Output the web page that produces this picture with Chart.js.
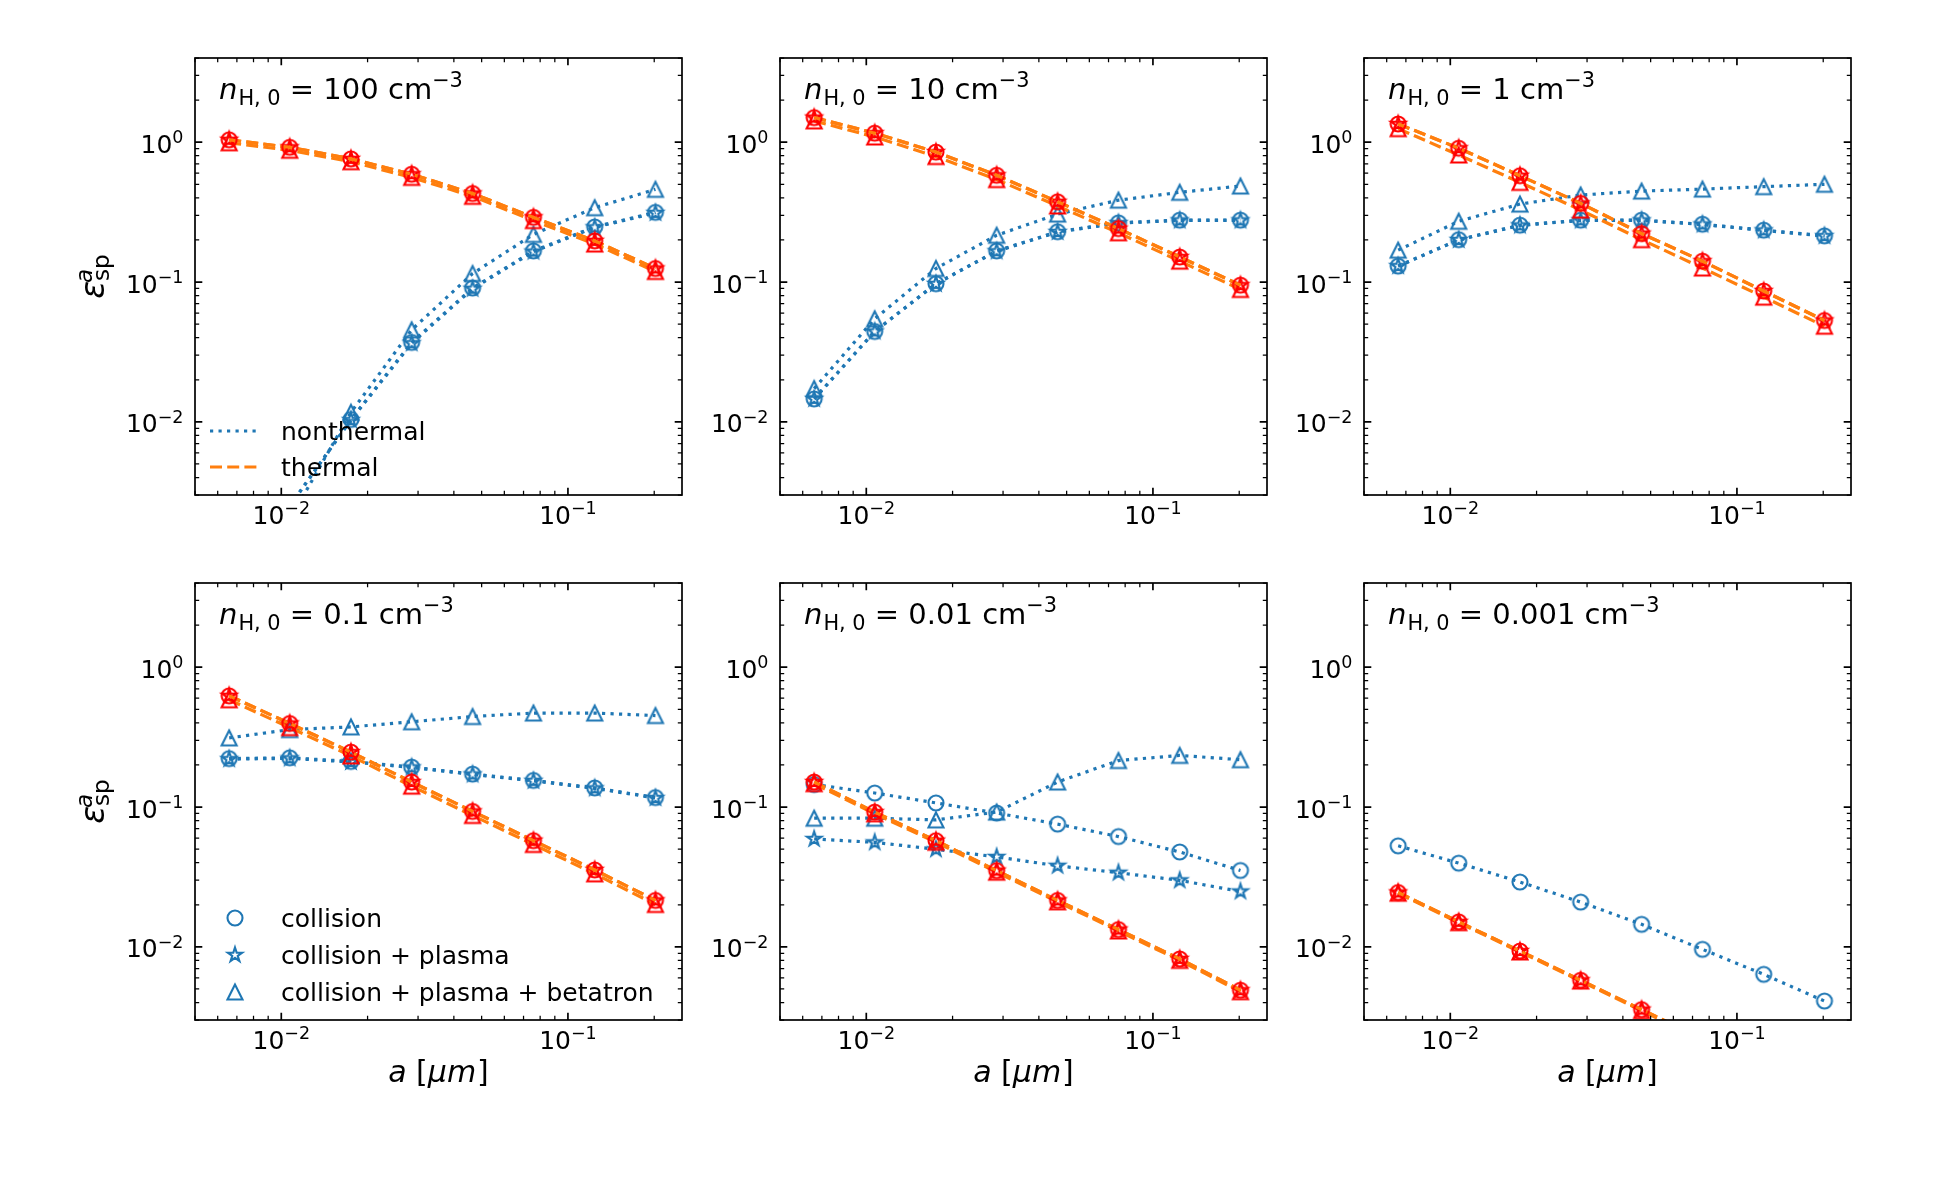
<!DOCTYPE html>
<html>
<head>
<meta charset="utf-8">
<script src="https://cdn.jsdelivr.net/npm/chart.js@4.4.1/dist/chart.umd.min.js"></script>
<style>
  html, body { margin: 0; padding: 0; background: #ffffff; width: 1950px; height: 1200px; overflow: hidden; }
  canvas { position: absolute; }
</style>
</head>
<body>
<script>
// ---------------- data ----------------
const grainSize = [0.00658, 0.0107, 0.0175, 0.0285, 0.0465, 0.0758, 0.124, 0.202]; // a [um]
const densityLabels = ['100', '10', '1', '0.1', '0.01', '0.001'];
const processLabels = ['collision', 'collision + plasma', 'collision + plasma + betatron'];
const componentLabels = ['nonthermal', 'thermal'];
const xMajorTicks = [0.01, 0.1];
const xTickLabels = [['10', '\u22122'], ['10', '\u22121']];
const xMinorTicks = [0.005, 0.006, 0.007, 0.008, 0.009, 0.02, 0.03, 0.04, 0.05, 0.06, 0.07, 0.08, 0.09, 0.2];
const yMajorTicks = [0.01, 0.1, 1];
const yTickLabels = [['10', '\u22122'], ['10', '\u22121'], ['10', '0']];
const yMinorTicks = [0.003, 0.004, 0.005, 0.006, 0.007, 0.008, 0.009, 0.02, 0.03, 0.04, 0.05, 0.06, 0.07, 0.08, 0.09,
                     0.2, 0.3, 0.4, 0.5, 0.6, 0.7, 0.8, 0.9, 2, 3, 4];

// n_H,0 = 100 cm^-3
const coll_nt_100 = [null, 0.0025, 0.0104, 0.037, 0.0906, 0.167, 0.248, 0.315];
const plas_nt_100 = [null, 0.0025, 0.0103, 0.0365, 0.0895, 0.165, 0.246, 0.312];
const beta_nt_100 = [null, 0.0020, 0.0117, 0.0455, 0.115, 0.219, 0.34, 0.46];
const coll_th_100 = [1.04, 0.92, 0.76, 0.59, 0.43, 0.29, 0.197, 0.125];
const plas_th_100 = [1.04, 0.92, 0.76, 0.59, 0.43, 0.29, 0.197, 0.125];
const beta_th_100 = [0.99, 0.875, 0.725, 0.56, 0.41, 0.275, 0.187, 0.119];
// n_H,0 = 10
const coll_nt_10 = [0.0146, 0.0443, 0.0973, 0.167, 0.229, 0.265, 0.277, 0.277];
const plas_nt_10 = [0.0146, 0.0443, 0.0970, 0.166, 0.228, 0.264, 0.276, 0.276];
const beta_nt_10 = [0.0173, 0.0546, 0.125, 0.216, 0.306, 0.385, 0.438, 0.486];
const coll_th_10 = [1.50, 1.16, 0.85, 0.58, 0.375, 0.241, 0.151, 0.0950];
const plas_th_10 = [1.50, 1.16, 0.85, 0.58, 0.375, 0.241, 0.151, 0.0950];
const beta_th_10 = [1.42, 1.09, 0.79, 0.54, 0.35, 0.225, 0.141, 0.0885];
// n_H,0 = 1
const coll_nt_1 = [0.130, 0.201, 0.255, 0.277, 0.277, 0.259, 0.235, 0.214];
const plas_nt_1 = [0.130, 0.200, 0.254, 0.276, 0.276, 0.258, 0.234, 0.213];
const beta_nt_1 = [0.169, 0.272, 0.361, 0.419, 0.447, 0.462, 0.481, 0.50];
const coll_th_1 = [1.35, 0.906, 0.576, 0.365, 0.222, 0.141, 0.0862, 0.0531];
const plas_th_1 = [1.35, 0.906, 0.576, 0.365, 0.222, 0.141, 0.0862, 0.0531];
const beta_th_1 = [1.25, 0.81, 0.516, 0.327, 0.201, 0.126, 0.078, 0.0483];
// n_H,0 = 0.1
const coll_nt_01 = [0.222, 0.225, 0.212, 0.193, 0.172, 0.155, 0.137, 0.117];
const plas_nt_01 = [0.220, 0.223, 0.210, 0.192, 0.171, 0.154, 0.136, 0.116];
const beta_nt_01 = [0.312, 0.358, 0.374, 0.407, 0.444, 0.470, 0.470, 0.451];
const coll_th_01 = [0.624, 0.396, 0.247, 0.151, 0.0931, 0.0575, 0.0355, 0.0215];
const plas_th_01 = [0.624, 0.396, 0.247, 0.151, 0.0931, 0.0575, 0.0355, 0.0215];
const beta_th_01 = [0.585, 0.37, 0.232, 0.141, 0.087, 0.054, 0.0333, 0.0201];
// n_H,0 = 0.01
const coll_nt_001 = [0.145, 0.126, 0.107, 0.0906, 0.0755, 0.0615, 0.0477, 0.0352];
const plas_nt_001 = [0.0591, 0.0559, 0.0499, 0.044, 0.038, 0.0339, 0.0299, 0.0249];
const beta_nt_001 = [0.0832, 0.0832, 0.0809, 0.092, 0.151, 0.215, 0.234, 0.218];
const coll_th_001 = [0.151, 0.092, 0.0575, 0.0351, 0.0215, 0.0133, 0.0082, 0.0049];
const plas_th_001 = [0.151, 0.092, 0.0575, 0.0351, 0.0215, 0.0133, 0.0082, 0.0049];
const beta_th_001 = [0.147, 0.0895, 0.056, 0.0342, 0.021, 0.013, 0.008, 0.00478];
// n_H,0 = 0.001
const coll_nt_0001 = [0.0528, 0.0397, 0.0291, 0.0209, 0.0145, 0.0096, 0.00636, 0.0041];
const plas_nt_0001 = [];
const beta_nt_0001 = [];
const coll_th_0001 = [0.0245, 0.0151, 0.00934, 0.00577, 0.00356, 0.0022, null, null];
const plas_th_0001 = [0.0245, 0.0151, 0.00934, 0.00577, 0.00356, 0.0022, null, null];
const beta_th_0001 = [0.0242, 0.0149, 0.0092, 0.0057, 0.0035, 0.00216, null, null];

const panelTable = [
  { nt: [coll_nt_100, plas_nt_100, beta_nt_100], th: [coll_th_100, plas_th_100, beta_th_100] },
  { nt: [coll_nt_10, plas_nt_10, beta_nt_10], th: [coll_th_10, plas_th_10, beta_th_10] },
  { nt: [coll_nt_1, plas_nt_1, beta_nt_1], th: [coll_th_1, plas_th_1, beta_th_1] },
  { nt: [coll_nt_01, plas_nt_01, beta_nt_01], th: [coll_th_01, plas_th_01, beta_th_01] },
  { nt: [coll_nt_001, plas_nt_001, beta_nt_001], th: [coll_th_001, plas_th_001, beta_th_001] },
  { nt: [coll_nt_0001, plas_nt_0001, beta_nt_0001], th: [coll_th_0001, plas_th_0001, beta_th_0001] }
];

// ---------------- styles ----------------
const C0 = '#1f77b4', C1 = '#ff7f0e', RED = '#ff0000';
const FONT = '"DejaVu Sans"';
const MS = 7.5, MEW = 2.1, LW = 3.2;
const DOTTED = [3.2, 5.3], DASHED = [12, 5.2];
const shapes = ['circle', 'star', 'triangle'];

function makeMarker(shape, color) {
  const s = 26, c = s / 2;
  const cv = document.createElement('canvas');
  cv.width = s; cv.height = s;
  const g = cv.getContext('2d');
  g.strokeStyle = color; g.lineWidth = MEW; g.lineJoin = 'miter';
  g.beginPath();
  if (shape === 'circle') {
    g.arc(c, c, MS, 0, 2 * Math.PI);
  } else if (shape === 'triangle') {
    g.moveTo(c, c - MS); g.lineTo(c - MS, c + MS); g.lineTo(c + MS, c + MS); g.closePath();
  } else {
    for (let k = 0; k < 10; k++) {
      const r = (k % 2 === 0) ? MS : MS * 0.381966;
      const ang = -Math.PI / 2 + k * Math.PI / 5;
      const px = c + r * Math.cos(ang), py = c + r * Math.sin(ang);
      if (k === 0) g.moveTo(px, py); else g.lineTo(px, py);
    }
    g.closePath();
  }
  g.stroke();
  return cv;
}
const markers = {
  blue: shapes.map(s => makeMarker(s, C0)),
  red: shapes.map(s => makeMarker(s, RED))
};

// ---------------- layout ----------------
const colLeft = [195, 780, 1364], rowTop = [58, 583];
const PW = 487, PH = 437, PL = 130, PT = 20, PR = 20, PB = 110;

function textW(ctx, t, font) { ctx.font = font; return ctx.measureText(t).width; }

function powLabel(ctx, pair, x, yBase, size, align) {
  const fb = size + 'px ' + FONT, fe = (size * 0.7) + 'px ' + FONT;
  const wb = textW(ctx, pair[0], fb), we = textW(ctx, pair[1], fe);
  const w = wb + we;
  const x0 = align === 'center' ? x - w / 2 : (align === 'right' ? x - w : x);
  ctx.textAlign = 'left'; ctx.textBaseline = 'alphabetic';
  ctx.font = fb; ctx.fillText(pair[0], x0, yBase);
  ctx.font = fe; ctx.fillText(pair[1], x0 + wb, yBase - size * 0.37);
}

function richText(ctx, parts, x, y, align) {
  const fontOf = p => (p.italic ? 'italic ' : '') + p.size + 'px ' + FONT;
  let total = 0;
  parts.forEach(p => { total += textW(ctx, p.t, fontOf(p)) + (p.dx || 0); });
  let cx = align === 'center' ? x - total / 2 : x;
  ctx.textAlign = 'left'; ctx.textBaseline = 'alphabetic';
  parts.forEach(p => {
    ctx.font = fontOf(p);
    cx += (p.dx || 0);
    ctx.fillText(p.t, cx, y + (p.dy || 0));
    cx += ctx.measureText(p.t).width;
  });
}

const decorPlugin = {
  id: 'decor',
  afterDatasetsDraw(chart) {
    const o = chart.options.plugins.decor;
    const { ctx, chartArea: a } = chart;
    const xs = chart.scales.x, ys = chart.scales.y;
    ctx.save();
    ctx.fillStyle = '#000'; ctx.strokeStyle = '#000';
    ctx.setLineDash([]); ctx.lineCap = 'butt';
    // frame
    ctx.lineWidth = 1.7;
    ctx.strokeRect(a.left, a.top, a.right - a.left, a.bottom - a.top);
    // ticks (inward, all four sides)
    const xt = (vals, len, lw) => {
      ctx.lineWidth = lw; ctx.beginPath();
      vals.forEach(v => {
        const p = xs.getPixelForValue(v);
        ctx.moveTo(p, a.bottom); ctx.lineTo(p, a.bottom - len);
        ctx.moveTo(p, a.top); ctx.lineTo(p, a.top + len);
      });
      ctx.stroke();
    };
    const yt = (vals, len, lw) => {
      ctx.lineWidth = lw; ctx.beginPath();
      vals.forEach(v => {
        const p = ys.getPixelForValue(v);
        ctx.moveTo(a.left, p); ctx.lineTo(a.left + len, p);
        ctx.moveTo(a.right, p); ctx.lineTo(a.right - len, p);
      });
      ctx.stroke();
    };
    xt(xMinorTicks, 4.2, 1.25); xt(xMajorTicks, 7.3, 1.7);
    yt(yMinorTicks, 4.2, 1.25); yt(yMajorTicks, 7.3, 1.7);
    // tick labels
    xMajorTicks.forEach((v, i) => powLabel(ctx, xTickLabels[i], xs.getPixelForValue(v), a.bottom + 28.5, 25, 'center'));
    yMajorTicks.forEach((v, i) => powLabel(ctx, yTickLabels[i], a.left - 11.5, ys.getPixelForValue(v) + 10.5, 25, 'right'));
    // panel title
    const F = 29;
    richText(ctx, [
      { t: 'n', size: F, italic: true },
      { t: 'H, 0', size: F * 0.72, dy: F * 0.22, dx: 1 },
      { t: ' = ' + o.dens + ' cm', size: F },
      { t: '\u22123', size: F * 0.72, dy: -F * 0.42 }
    ], a.left + 24, a.top + 41, 'left');
    // y label
    if (o.ylabel) {
      const FY = 33;
      ctx.save();
      ctx.translate(a.left - 91.5, (a.top + a.bottom) / 2);
      ctx.rotate(-Math.PI / 2);
      const we = textW(ctx, '\u03b5', 'italic ' + FY + 'px ' + FONT);
      const wa = textW(ctx, 'a', 'italic ' + FY * 0.7 + 'px ' + FONT);
      const ws = textW(ctx, 'sp', FY * 0.7 + 'px ' + FONT);
      const x0 = -(we + Math.max(wa, ws)) / 2;
      ctx.textAlign = 'left'; ctx.textBaseline = 'alphabetic';
      ctx.font = 'italic ' + FY + 'px ' + FONT; ctx.fillText('\u03b5', x0, 0);
      ctx.font = 'italic ' + FY * 0.7 + 'px ' + FONT; ctx.fillText('a', x0 + we - 2, -FY * 0.34);
      ctx.font = FY * 0.7 + 'px ' + FONT; ctx.fillText('sp', x0 + we, FY * 0.17);
      ctx.restore();
    }
    // x label
    if (o.xlabel) {
      const FX = 30;
      richText(ctx, [
        { t: 'a', size: FX, italic: true },
        { t: ' [', size: FX },
        { t: '\u03bcm', size: FX, italic: true },
        { t: ']', size: FX, dx: 1 }
      ], (a.left + a.right) / 2, a.bottom + 62, 'center');
    }
    // legends
    if (o.legend === 'component') {
      const rows = [{ y: a.bottom - 64, c: C0, d: DOTTED }, { y: a.bottom - 28, c: C1, d: DASHED }];
      rows.forEach((r, i) => {
        ctx.strokeStyle = r.c; ctx.lineWidth = LW; ctx.setLineDash(r.d); ctx.lineCap = 'butt';
        ctx.beginPath(); ctx.moveTo(a.left + 15, r.y); ctx.lineTo(a.left + 65, r.y); ctx.stroke();
        ctx.setLineDash([]);
        ctx.fillStyle = '#000'; ctx.font = '25px ' + FONT; ctx.textAlign = 'left'; ctx.textBaseline = 'alphabetic';
        ctx.fillText(componentLabels[i], a.left + 86, r.y + 8.5);
      });
    } else if (o.legend === 'process') {
      const ys3 = [a.bottom - 102, a.bottom - 65, a.bottom - 28];
      ys3.forEach((yy, i) => {
        const m = markers.blue[i];
        ctx.drawImage(m, a.left + 40 - m.width / 2, yy - m.height / 2);
        ctx.fillStyle = '#000'; ctx.font = '25px ' + FONT; ctx.textAlign = 'left'; ctx.textBaseline = 'alphabetic';
        ctx.fillText(processLabels[i], a.left + 86, yy + 8.5);
      });
    }
    ctx.restore();
  }
};

function series(arr) {
  return grainSize.map((a, i) => ({ x: a, y: (arr[i] === undefined ? null : arr[i]) }));
}

panelTable.forEach((p, idx) => {
  const col = idx % 3, row = Math.floor(idx / 3);
  const cv = document.createElement('canvas');
  const W = PL + PW + PR, H = PT + PH + PB;
  cv.width = W; cv.height = H;
  cv.style.width = W + 'px'; cv.style.height = H + 'px';
  cv.style.left = (colLeft[col] - PL) + 'px';
  cv.style.top = (rowTop[row] - PT) + 'px';
  document.body.appendChild(cv);

  const datasets = [];
  // thermal first (drawn on top)
  p.th.forEach((arr, k) => {
    if (!arr.length) return;
    datasets.push({
      label: componentLabels[1] + ' ' + processLabels[k],
      data: series(arr),
      borderColor: C1, borderWidth: LW, borderDash: DASHED, borderCapStyle: 'butt',
      pointStyle: markers.red[k], pointRadius: MS, pointHoverRadius: MS,
      fill: false, tension: 0, spanGaps: false
    });
  });
  p.nt.forEach((arr, k) => {
    if (!arr.length) return;
    datasets.push({
      label: componentLabels[0] + ' ' + processLabels[k],
      data: series(arr),
      borderColor: C0, borderWidth: LW, borderDash: DOTTED, borderCapStyle: 'butt',
      pointStyle: markers.blue[k], pointRadius: MS, pointHoverRadius: MS,
      fill: false, tension: 0, spanGaps: false
    });
  });

  new Chart(cv, {
    type: 'line',
    data: { datasets },
    options: {
      responsive: false, animation: false, events: [], devicePixelRatio: 1,
      layout: { padding: { left: PL, top: PT, right: PR, bottom: PB } },
      scales: {
        x: { type: 'logarithmic', min: 0.005, max: 0.25, display: false },
        y: { type: 'logarithmic', min: 0.003, max: 4, display: false }
      },
      plugins: {
        legend: { display: false },
        tooltip: { enabled: false },
        decor: {
          dens: densityLabels[idx],
          ylabel: col === 0,
          xlabel: row === 1,
          legend: idx === 0 ? 'component' : (idx === 3 ? 'process' : null)
        }
      }
    },
    plugins: [decorPlugin]
  });
});
</script>
</body>
</html>
